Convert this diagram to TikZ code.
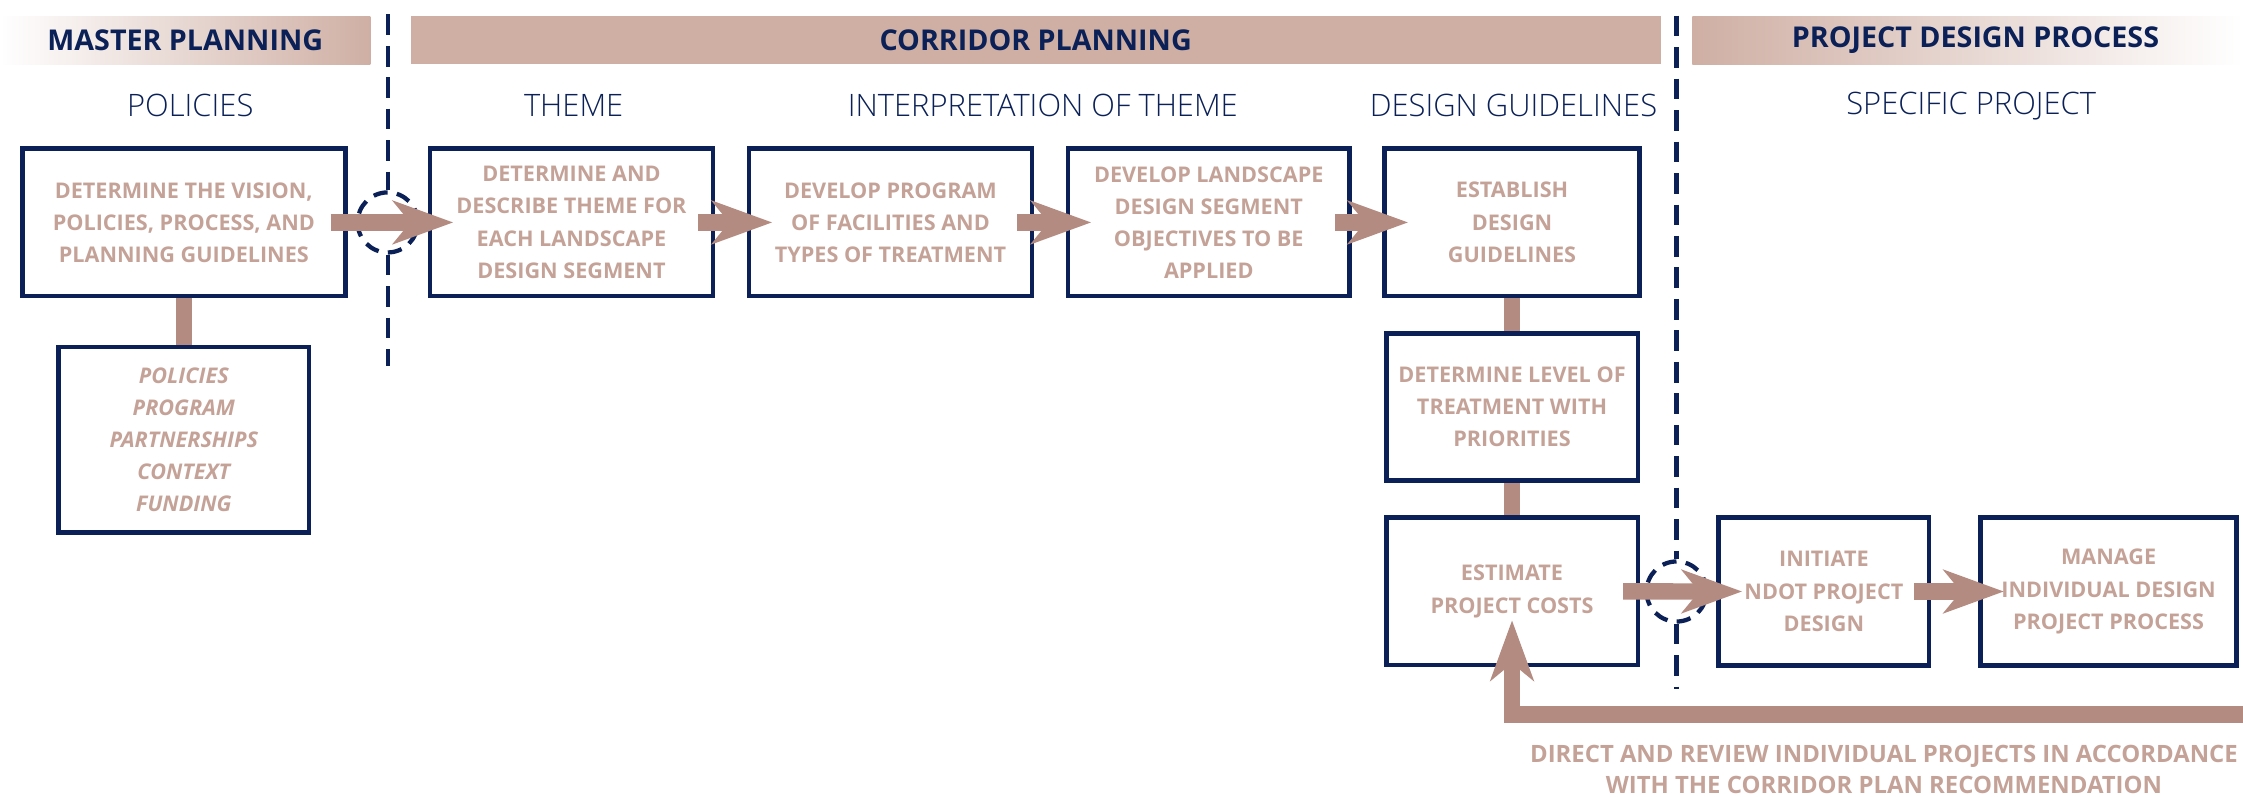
\documentclass[tikz,border=0pt]{standalone}
\usepackage{fontspec}
\setmainfont{Open Sans}
\newfontfamily\thinfont{Open Sans Light}
\usetikzlibrary{arrows.meta,positioning}
\definecolor{navy}{RGB}{10,32,86}
\definecolor{rose}{RGB}{196,162,151}
\definecolor{clay}{RGB}{180,139,128}
\definecolor{blush}{RGB}{207,175,164}

\begin{document}
\begin{tikzpicture}[x=0.02cm,y=0.02cm,>={Stealth[length=0.84cm,width=0.6cm,inset=0.24cm]},
        node distance=2.58cm,
        stepbox/.style={rectangle,draw=navy,line width=1.9pt,minimum height=2.06cm,align=center,
            text=rose,font=\fontsize{8.6}{12.8}\selectfont\bfseries},
        band/.style={minimum height=0.67cm,inner sep=0pt,text=navy,
            font=\fontsize{11.4}{13}\selectfont\bfseries},
        phase/.style={text=navy,font=\thinfont\fontsize{12.3}{14}\selectfont},
        flow/.style={->,clay,line width=0.23cm,shorten <=-0.24cm,shorten >=-0.36cm},
        link/.style={clay,line width=0.22cm},
        fence/.style={navy,line width=1.7pt,dash pattern=on 0.29cm off 0.15cm},
        gate/.style={circle,draw=navy,line width=1.7pt,dash pattern=on 0.2cm off 0.13cm,
            minimum size=0.84cm,inner sep=0pt}]
    \useasboundingbox (0,0) rectangle (1568,-557);

    % phase bands
    \node[band,minimum width=5.18cm,left color=white,right color=blush] (master) at (129.5,-28) {MASTER PLANNING};
    \node[band,minimum width=17.48cm,fill=blush] (corridor) at (724,-28) {CORRIDOR PLANNING};
    \node[band,minimum width=7.7cm,left color=blush,right color=white] (project) at (1375.5,-28) {\hspace{0.22cm}PROJECT DESIGN PROCESS};

    \node[phase] (policies) at (133,-74) {POLICIES};
    \node[phase] (themes) at (401,-74) {THEME};
    \node[phase] (interp) at (729,-74) {INTERPRETATION OF THEME};
    \node[phase] (guides) at (1058,-74) {DESIGN GUIDELINES};
    \node[phase] (specific) at (1378,-74) {SPECIFIC PROJECT};

    % dashed borders between phases
    \coordinate (f1top) at (271,-10);
    \coordinate (f1end) at (271,-256);
    \coordinate (f2top) at (1172,-11);
    \coordinate (f2end) at (1172,-482);
    \node[gate] (g1) at (271,-155.5) {};
    \node[gate] (g2) at (1172,-413.5) {};
    \draw[fence] (f1top) -- (g1);
    \draw[fence] (g1) -- (f1end);
    \draw[fence] (f2top) -- (g2);
    \draw[fence] (g2) -- (f2end);

    \node[stepbox,minimum width=4.52cm] (vision) at (128.5,-155.5) {DETERMINE THE VISION,\\POLICIES, PROCESS, AND\\PLANNING GUIDELINES};
    \node[stepbox,minimum width=3.5cm,minimum height=2.6cm,font=\fontsize{8.6}{12.8}\selectfont\bfseries\itshape] (policy) at (128.5,-307.5) {POLICIES\\PROGRAM\\PARTNERSHIPS\\CONTEXT\\FUNDING};
    \node[stepbox,minimum width=3.96cm] (theme) at (399.5,-155.5) {DETERMINE AND\\DESCRIBE THEME FOR\\EACH LANDSCAPE\\DESIGN SEGMENT};
    \node[stepbox,minimum width=3.96cm] (program) at (622.5,-155.5) {DEVELOP PROGRAM\\OF FACILITIES AND\\TYPES OF TREATMENT};
    \node[stepbox,minimum width=3.94cm] (objective) at (845,-155.5) {DEVELOP LANDSCAPE\\DESIGN SEGMENT\\OBJECTIVES TO BE\\APPLIED};
    \node[stepbox,minimum width=3.56cm] (guide) at (1057,-155.5) {ESTABLISH\\DESIGN\\GUIDELINES};
    \node[stepbox,minimum width=3.52cm] (level) [below of=guide] {DETERMINE LEVEL OF\\TREATMENT WITH\\PRIORITIES};
    \node[stepbox,minimum width=3.52cm] (cost) [below of=level] {ESTIMATE\\PROJECT COSTS};
    \node[stepbox,minimum width=2.94cm] (initiate) at (1275,-413.5) {INITIATE\\NDOT PROJECT\\DESIGN};
    \node[stepbox,minimum width=3.58cm] (manage) at (1474,-413.5) {MANAGE\\INDIVIDUAL DESIGN\\PROJECT PROCESS};

    \draw[link] (vision) -- (policy);
    \draw[link] (guide) -- (level);
    \draw[link] (level) -- (cost);

    \draw[flow] (vision) -- (theme);
    \draw[flow] (theme) -- (program);
    \draw[flow] (program) -- (objective);
    \draw[flow] (objective) -- (guide);
    \draw[flow] (cost) -- (initiate);
    \draw[flow] (initiate) -- (manage);

    % review loop back to the cost estimate
    \coordinate (back) at (1575,-499.5);
    \draw[flow,shorten <=0pt,shorten >=-0.66cm] (back) -| (cost);
    \node[text=rose,align=center,font=\fontsize{9.5}{12.6}\selectfont\bfseries] (note) at (1317,-538) {DIRECT AND REVIEW INDIVIDUAL PROJECTS IN ACCORDANCE\\WITH THE CORRIDOR PLAN RECOMMENDATION};
\end{tikzpicture}
\end{document}
